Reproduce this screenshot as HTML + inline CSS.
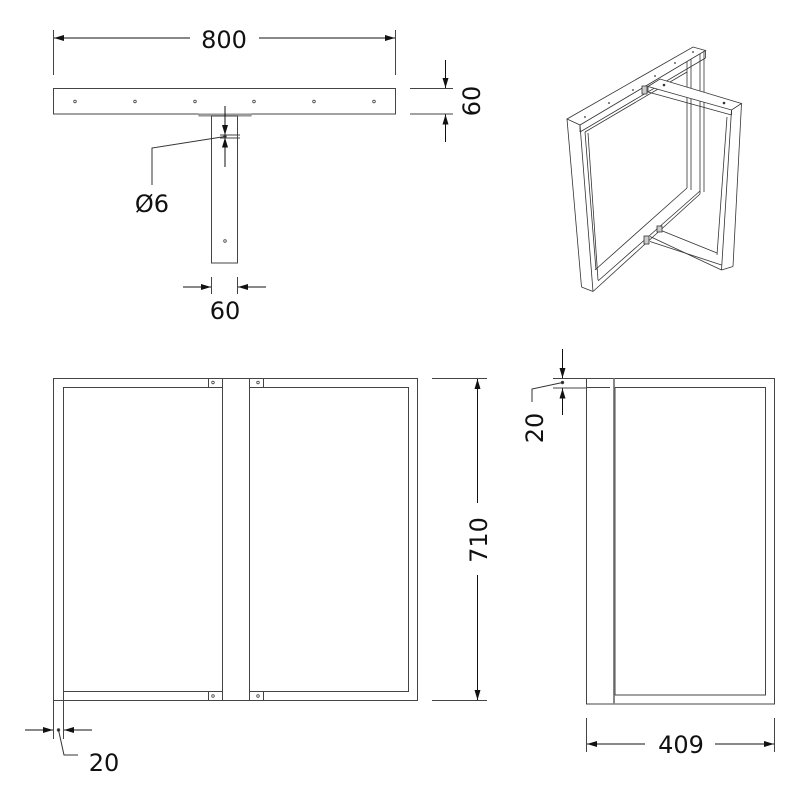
<!DOCTYPE html>
<html><head><meta charset="utf-8"><style>
html,body{margin:0;padding:0;background:#fff;}
svg{display:block;}
text{font-family:"DejaVu Sans","Liberation Sans",sans-serif;fill:#111;}
</style></head><body>
<svg width="800" height="800" viewBox="0 0 800 800" xmlns="http://www.w3.org/2000/svg">
<defs>
<marker id="a" viewBox="0 0 10 6" refX="10" refY="3" markerWidth="10" markerHeight="6" orient="auto-start-reverse" markerUnits="userSpaceOnUse"><path d="M0,0L10,3L0,6z" fill="#111"/></marker>
</defs>
<g stroke="#444" stroke-width="1" fill="none">
<!-- TOP VIEW -->
<rect x="53.5" y="88.5" width="342" height="25.5"/>
<rect x="199" y="114" width="52" height="2" fill="#aaa" stroke="#888"/>
<rect x="211.5" y="116" width="26" height="147"/>
<g stroke-width="0.8">
<circle cx="75" cy="101.5" r="1.3"/><circle cx="135" cy="101.5" r="1.3"/><circle cx="195" cy="101.5" r="1.3"/>
<circle cx="254" cy="101.5" r="1.3"/><circle cx="314" cy="101.5" r="1.3"/><circle cx="374" cy="101.5" r="1.3"/>
<circle cx="225" cy="241" r="1.3"/>
</g>
<!-- 800 -->
<line x1="53.5" y1="30" x2="53.5" y2="75"/><line x1="395.5" y1="30" x2="395.5" y2="75"/>
<line x1="190" y1="38" x2="54" y2="38" stroke="#111" marker-end="url(#a)"/>
<line x1="259" y1="38" x2="395" y2="38" stroke="#111" marker-end="url(#a)"/>
<!-- 60 right -->
<line x1="410" y1="88.5" x2="453" y2="88.5"/><line x1="410" y1="114" x2="453" y2="114"/>
<line x1="445.5" y1="60" x2="445.5" y2="88" stroke="#111" marker-end="url(#a)"/>
<line x1="445.5" y1="142" x2="445.5" y2="114.5" stroke="#111" marker-end="url(#a)"/>
<!-- Ø6 -->
<line x1="225" y1="106" x2="225" y2="135" stroke="#111" marker-end="url(#a)"/>
<line x1="225" y1="167" x2="225" y2="137.5" stroke="#111" marker-end="url(#a)"/>
<line x1="220" y1="135" x2="240" y2="135"/><line x1="220" y1="138" x2="240" y2="138"/>
<circle cx="225" cy="136.5" r="1.2" fill="#111"/>
<polyline points="225,136.5 152,148 152,185" stroke="#333"/>
<!-- 60 bottom -->
<line x1="211.5" y1="277" x2="211.5" y2="294"/><line x1="237.5" y1="277" x2="237.5" y2="294"/>
<line x1="183" y1="287" x2="211" y2="287" stroke="#111" marker-end="url(#a)"/>
<line x1="266" y1="287" x2="238" y2="287" stroke="#111" marker-end="url(#a)"/>

<!-- ISO VIEW -->
<g stroke="#333" stroke-width="0.8">
<!-- back frame right post (behind) -->
<line x1="687" y1="60" x2="687" y2="188"/>
<line x1="691" y1="58" x2="691" y2="190"/>
<line x1="700" y1="52" x2="700" y2="194"/>
<line x1="704" y1="50" x2="704" y2="192"/>
<!-- back frame top bar -->
<polygon points="567,119 693,47 705.5,50.5 580,125" fill="#fff"/>
<line x1="580" y1="125" x2="580" y2="132"/>
<line x1="580" y1="132" x2="705.5" y2="58"/>
<line x1="705.5" y1="50.5" x2="705.5" y2="58"/>
<line x1="585" y1="132" x2="687" y2="72"/>
<!-- back frame left post -->
<line x1="567" y1="119" x2="581.5" y2="287"/>
<line x1="580" y1="125" x2="593" y2="291.5"/>
<line x1="581.5" y1="287" x2="593" y2="291.5"/>
<line x1="585" y1="132" x2="596" y2="270"/>
<line x1="588" y1="133" x2="598" y2="280"/>
<!-- back frame bottom bar -->
<line x1="593" y1="291.5" x2="700" y2="194"/>
<line x1="595" y1="270" x2="687" y2="188"/>
<line x1="598" y1="281" x2="700" y2="191"/>
<g fill="#333" stroke="none">
<circle cx="585" cy="117" r="0.9"/><circle cx="609" cy="103" r="0.9"/><circle cx="633" cy="90" r="0.9"/><circle cx="655" cy="76" r="0.9"/><circle cx="675" cy="63" r="0.9"/><circle cx="693" cy="52" r="0.9"/>
</g>
<!-- front frame top bar -->
<polygon points="648,86.5 660,79 741.5,103.5 731.5,110" fill="#fff"/>
<line x1="648" y1="86.5" x2="648" y2="92"/>
<line x1="648" y1="92" x2="731.5" y2="115"/>
<line x1="731.5" y1="110" x2="731.5" y2="115"/>
<rect x="642" y="86" width="5" height="8" fill="#ccc"/>
<circle cx="724" cy="103" r="0.9" fill="#333"/><circle cx="664" cy="85" r="0.9" fill="#333"/>
<!-- front frame right post -->
<line x1="741.5" y1="103.5" x2="733" y2="266.5"/>
<line x1="731.5" y1="110" x2="721.5" y2="270"/>
<line x1="727" y1="117" x2="717" y2="255"/>
<line x1="721.5" y1="270" x2="733" y2="266.5"/>
<!-- front frame bottom bar -->
<line x1="650" y1="236.5" x2="721.5" y2="270"/>
<line x1="650" y1="241.5" x2="721.5" y2="265"/>
<line x1="660" y1="230" x2="717" y2="253"/>
<rect x="644" y="236" width="5" height="8" fill="#ccc"/>
<rect x="657" y="226" width="5" height="6" fill="#ccc"/>
</g>

<!-- FRONT VIEW -->
<rect x="53.5" y="378.5" width="364" height="322"/>
<rect x="63.5" y="387.5" width="159" height="304"/>
<rect x="249.5" y="387.5" width="159" height="304"/>
<line x1="249.5" y1="378.5" x2="249.5" y2="700.5"/>
<rect x="208.5" y="378.5" width="14" height="9"/><rect x="249.5" y="378.5" width="14" height="9"/>
<rect x="208.5" y="691.5" width="14" height="9"/><rect x="249.5" y="691.5" width="14" height="9"/>
<g stroke-width="0.8"><circle cx="213" cy="382.5" r="1.3"/><circle cx="258" cy="382.5" r="1.3"/><circle cx="213" cy="696" r="1.3"/><circle cx="258" cy="696" r="1.3"/></g>
<!-- 710 -->
<line x1="432" y1="378.5" x2="487" y2="378.5"/><line x1="432" y1="700.5" x2="487" y2="700.5"/>
<line x1="477.5" y1="503" x2="477.5" y2="379" stroke="#111" marker-end="url(#a)"/>
<line x1="477.5" y1="575" x2="477.5" y2="700" stroke="#111" marker-end="url(#a)"/>
<!-- 20 left -->
<line x1="53.5" y1="667" x2="53.5" y2="739"/><line x1="63.5" y1="667" x2="63.5" y2="739"/>
<line x1="25" y1="730" x2="53" y2="730" stroke="#111" marker-end="url(#a)"/>
<line x1="92" y1="730" x2="64" y2="730" stroke="#111" marker-end="url(#a)"/>
<circle cx="58.5" cy="730" r="1.2" fill="#111"/>
<polyline points="58.5,730 64,755 78,755" stroke="#333"/>

<!-- SIDE VIEW -->
<rect x="586.5" y="378.5" width="188" height="325.5"/>
<line x1="614" y1="378.5" x2="614" y2="704" stroke="#888" stroke-width="2"/>
<rect x="615" y="387.5" width="150.5" height="307.5"/>
<line x1="586.5" y1="387.5" x2="610" y2="387.5"/>
<line x1="553" y1="378.5" x2="610" y2="378.5"/><line x1="553" y1="388" x2="586" y2="388"/>
<line x1="562.5" y1="349" x2="562.5" y2="378" stroke="#111" marker-end="url(#a)"/>
<line x1="562.5" y1="415" x2="562.5" y2="388.5" stroke="#111" marker-end="url(#a)"/>
<circle cx="562.5" cy="382.5" r="1.2" fill="#111"/>
<polyline points="562.5,382.5 532,389 532,402" stroke="#333"/>
<!-- 409 -->
<line x1="586.5" y1="718" x2="586.5" y2="752"/><line x1="774.5" y1="718" x2="774.5" y2="752"/>
<line x1="645" y1="744" x2="587" y2="744" stroke="#111" marker-end="url(#a)"/>
<line x1="715" y1="744" x2="774" y2="744" stroke="#111" marker-end="url(#a)"/>
</g>

<g font-size="24">
<text x="224" y="48" text-anchor="middle">800</text>
<text x="0" y="0" text-anchor="middle" transform="translate(480,101) rotate(-90)">60</text>
<text x="152" y="212" text-anchor="middle">Ø6</text>
<text x="225" y="319" text-anchor="middle">60</text>
<text x="0" y="0" text-anchor="middle" transform="translate(487,540) rotate(-90)">710</text>
<text x="104" y="771" text-anchor="middle">20</text>
<text x="0" y="0" text-anchor="middle" transform="translate(543,428) rotate(-90)">20</text>
<text x="681" y="753" text-anchor="middle">409</text>
</g>
</svg>
</body></html>
